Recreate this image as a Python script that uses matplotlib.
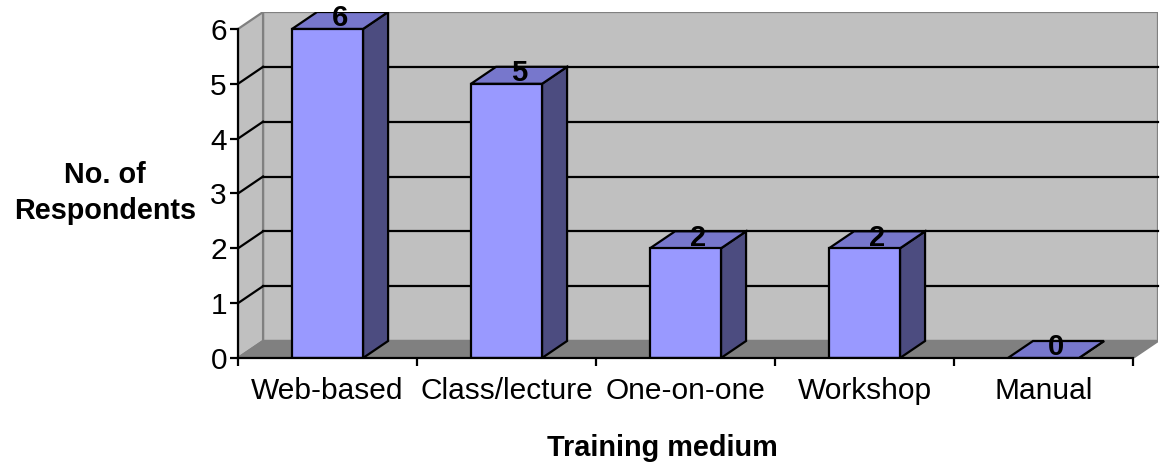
import numpy as np
import matplotlib
matplotlib.use('Agg')
import matplotlib.pyplot as plt
from matplotlib.patches import Polygon

categories = ['Web-based', 'Class/lecture', 'One-on-one', 'Workshop', 'Manual']
counts = [6, 5, 2, 2, 0]
y_ticks = [0, 1, 2, 3, 4, 5, 6]

plt.rcParams['font.family'] = ['Liberation Sans', 'DejaVu Sans']

FRONT, TOP, SIDE = '#9999ff', '#7777cc', '#4c4c80'
WALL, FLOOR, EDGE = '#c0c0c0', '#808080', '#808080'
LW = 1.6
FS = 21.5

n = len(categories)
ymax = max(y_ticks)
dx, dy = 0.14, 0.31      # depth offset (category units, value units)
bw = 0.397               # bar width in category units
x0, x1 = -0.5, n - 0.5

fig = plt.figure(figsize=(11.6, 4.67), dpi=100)
ax = fig.add_axes([238 / 1160, (467 - 358) / 467, 920 / 1160, 346 / 467])
ax.set_xlim(x0, x1 + dx)
ax.set_ylim(0, ymax + dy)

# walls and floor
ax.add_patch(Polygon([(x0 + dx, dy), (x1 + dx, dy), (x1 + dx, ymax + dy), (x0 + dx, ymax + dy)],
                     closed=True, fc=WALL, ec=EDGE, lw=LW, zorder=1))
ax.add_patch(Polygon([(x0, 0), (x0 + dx, dy), (x0 + dx, ymax + dy), (x0, ymax)],
                     closed=True, fc=WALL, ec=EDGE, lw=LW, zorder=1))
ax.add_patch(Polygon([(x0, 0), (x1, 0), (x1 + dx, dy), (x0 + dx, dy)],
                     closed=True, fc=FLOOR, ec=EDGE, lw=LW, zorder=1))

# gridlines on back and side wall
for k in y_ticks[1:-1]:
    ax.plot([x0 + dx, x1 + dx], [k + dy, k + dy], color='black', lw=LW, zorder=2, clip_on=False)
    ax.plot([x0, x0 + dx], [k, k + dy], color='black', lw=LW, zorder=2, clip_on=False)

# 3d bars
for i, v in enumerate(counts):
    l, r = i - bw / 2, i + bw / 2
    ax.add_patch(Polygon([(r, 0), (r + dx, dy), (r + dx, v + dy), (r, v)],
                         closed=True, fc=SIDE, ec='black', lw=LW, zorder=3))
    ax.add_patch(Polygon([(l, v), (r, v), (r + dx, v + dy), (l + dx, v + dy)],
                         closed=True, fc=TOP, ec='black', lw=LW, zorder=3))
    if v > 0:
        ax.add_patch(Polygon([(l, 0), (r, 0), (r, v), (l, v)],
                             closed=True, fc=FRONT, ec='black', lw=LW, zorder=3))
    ax.text(i + dx / 2, v + dy / 2 + 0.04, str(v), ha='center', va='center',
            fontsize=21, fontweight='bold', zorder=5)

# axes
for s in ['top', 'right']:
    ax.spines[s].set_visible(False)
ax.spines['left'].set_bounds(0, ymax)
ax.spines['bottom'].set_bounds(x0, x1)
for s in ['left', 'bottom']:
    ax.spines[s].set_linewidth(LW)
    ax.spines[s].set_zorder(4)
ax.set_facecolor('none')

ax.set_yticks(y_ticks)
ax.tick_params(axis='y', direction='out', length=6, width=LW, labelsize=FS, pad=2)
ax.set_xticks(range(n))
ax.set_xticklabels(categories)
ax.tick_params(axis='x', which='major', length=0, labelsize=FS, pad=14)
ax.set_xticks(np.arange(x0, x1 + 0.01, 1.0), minor=True)
ax.tick_params(axis='x', which='minor', direction='out', length=6, width=LW)

ax.set_ylabel('No. of\nRespondents', rotation=0, fontsize=20.7, fontweight='bold',
              ha='center', va='center', linespacing=1.35)
ax.yaxis.set_label_coords(-0.1446, 0.477)
ax.set_xlabel('Training medium', fontsize=20.8, fontweight='bold')
ax.xaxis.set_label_coords((662 - 238) / 920, -0.26)
ax.xaxis.label.set_va('center')

fig.savefig('out.png', dpi=100)
